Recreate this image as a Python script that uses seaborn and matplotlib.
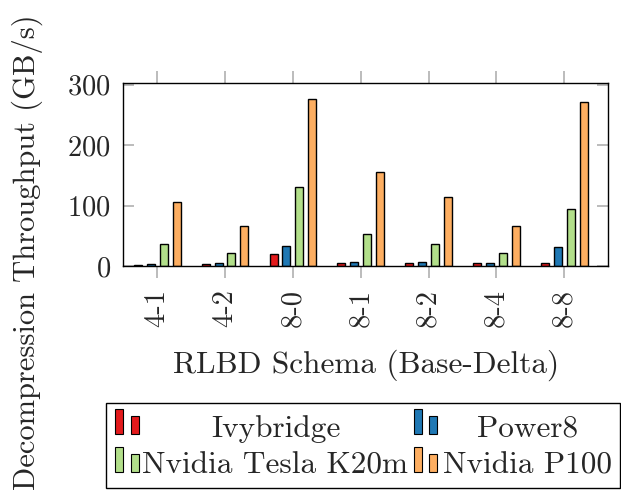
import matplotlib
matplotlib.use("Agg")
import matplotlib.pyplot as plt
from matplotlib.patches import Rectangle
import seaborn as sns
import pandas as pd

schemas = ["4-1", "4-2", "8-0", "8-1", "8-2", "8-4", "8-8"]
ivybridge = [2.2, 3.9, 20.4, 5.0, 4.4, 4.4, 5.0]
power8 = [3.9, 5.5, 33.7, 6.6, 6.0, 5.5, 31.5]
tesla_k20m = [35.9, 21.0, 130.4, 53.0, 37.0, 21.0, 95.0]
p100 = [105.5, 66.9, 275.7, 155.2, 113.8, 66.3, 271.8]

systems = ["Ivybridge", "Power8", "Nvidia Tesla K20m", "Nvidia P100"]
colors = ["#e31a1c", "#1f78b4", "#b2df8a", "#fdae61"]

rows = []
for name, vals in zip(systems, [ivybridge, power8, tesla_k20m, p100]):
    for s, v in zip(schemas, vals):
        rows.append({"schema": s, "system": name, "gbps": v})
df = pd.DataFrame(rows)

sns.set_theme(style="white")
plt.rcParams["font.family"] = ["cmr10", "DejaVu Serif"]
plt.rcParams["axes.formatter.use_mathtext"] = True
plt.rcParams["mathtext.fontset"] = "cm"

TICK_FS = 20.5
LABEL_FS = 22.5

W, H = 621, 495
fig = plt.figure(figsize=(W / 100, H / 100), dpi=100)
ax = fig.add_axes([123.3 / W, 1 - 266 / H, (608.3 - 123.3) / W, (266 - 83.3) / H])

sns.barplot(data=df, x="schema", y="gbps", hue="system", order=schemas,
            hue_order=systems, palette=colors, width=0.76, gap=0.38,
            edgecolor="black", linewidth=1.0, saturation=1, ax=ax, legend=False)

ax.set_xlim(-0.5, 6.65)
ax.set_ylim(0, 302)
ax.set_yticks([0, 100, 200, 300])
ax.set_xticks(range(len(schemas)))
ax.set_xticklabels(schemas, rotation=90)
ax.set_xlabel("RLBD Schema (Base-Delta)", fontsize=LABEL_FS, labelpad=16)
ax.set_ylabel("")

for sp in ax.spines.values():
    sp.set_visible(True)
    sp.set_color("black")
    sp.set_linewidth(1.0)

ax.tick_params(axis="y", direction="in", length=8, width=1.1, color="#aaaaaa",
               left=True, right=True, labelsize=TICK_FS, pad=9)
ax.tick_params(axis="x", direction="out", length=8.5, width=1.1, color="#aaaaaa",
               bottom=True, top=True, labelsize=TICK_FS, pad=8)

# y axis title, centred on the whole picture
fig.text(27 / W, 1 - 252 / H, "Decompression Throughput (GB/s)", rotation=90,
         ha="center", va="center", fontsize=22)

# legend box with two-bar handles
def fx(px):
    return px / W

def fy(py):
    return 1 - py / H

fig.patches.append(Rectangle((fx(106), fy(488)), fx(620) - fx(106), fy(403.3) - fy(488),
                             transform=fig.transFigure, facecolor="white",
                             edgecolor="black", linewidth=1.0, zorder=5))

handle_x = [(115, 131), (414, 429.3)]
text_cx = [275.5, 527.5]
row_top = [409.3, 447.3]
row_base = [434, 472.3]
text_base = [436.7, 473.3]
for i, (name, col) in enumerate(zip(systems, colors)):
    r, c = divmod(i, 2)
    x1, x2 = handle_x[c]
    bw = 7.8
    top, base = row_top[r], row_base[r]
    fig.patches.append(Rectangle((fx(x1), fy(base)), bw / W, (base - top) / H,
                                 transform=fig.transFigure, facecolor=col,
                                 edgecolor="black", linewidth=0.8, zorder=6))
    fig.patches.append(Rectangle((fx(x2), fy(base)), bw / W, (base - top - 6.5) / H,
                                 transform=fig.transFigure, facecolor=col,
                                 edgecolor="black", linewidth=0.8, zorder=6))
    fig.text(fx(text_cx[c]), fy(text_base[r]), name, ha="center", va="baseline",
             fontsize=LABEL_FS, zorder=7)

fig.savefig("out.png", dpi=100)
